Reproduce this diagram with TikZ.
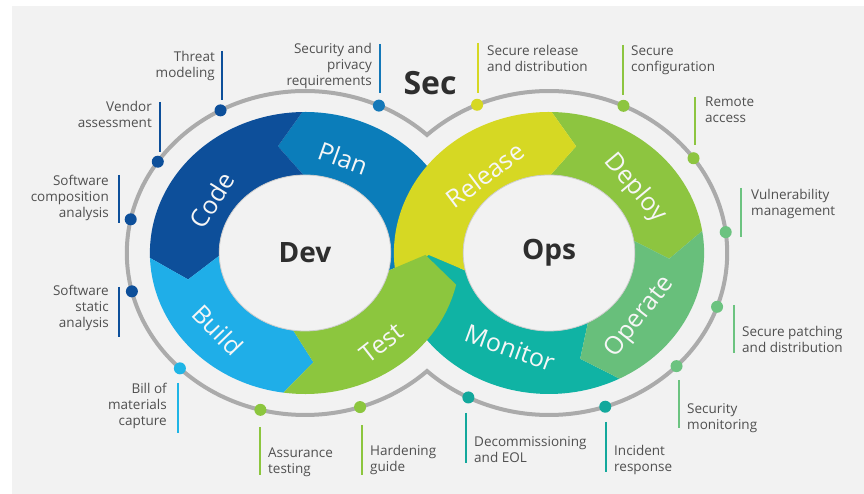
\documentclass[tikz,border=0pt]{standalone}
\usepackage{fontspec}
\setmainfont{Open Sans}
\definecolor{bgcol}{HTML}{F2F2F2}
\definecolor{txtgray}{HTML}{505050}
\definecolor{darktxt}{HTML}{2E2E2E}
\definecolor{trackgray}{HTML}{ABABAB}
\definecolor{codeblue}{HTML}{0D4F9A}
\definecolor{planblue}{HTML}{0B7DBA}
\definecolor{buildblue}{HTML}{1FAEE8}
\definecolor{testgreen}{HTML}{8CC63E}
\definecolor{releaseyellow}{HTML}{D6D823}
\definecolor{deploygreen}{HTML}{8DC540}
\definecolor{operategreen}{HTML}{68BF7B}
\definecolor{monitorteal}{HTML}{10B3A4}
\definecolor{secprivblue}{HTML}{1478B8}
\definecolor{billblue}{HTML}{1FB5E6}
\definecolor{opsdotgreen}{HTML}{6CC380}
\definecolor{tealdot}{HTML}{13A89C}
\begin{document}
\begin{tikzpicture}[x=1pt,y=1pt,
  devs/.style={shift={(305,241)},xscale=1.1},
  opss/.style={shift={(549,241)},xscale=1.1},
  lbl/.style={font=\fontsize{13.5}{16}\selectfont, text=txtgray, inner sep=0pt},
  lblL/.style={lbl, align=right, anchor=north east},
  lblR/.style={lbl, align=left, anchor=north west},
  seglbl/.style={font=\fontsize{25}{25}\selectfont, text=white!93!gray, inner sep=0pt},
  dotnode/.style={circle, inner sep=0pt, minimum size=12pt, fill=#1},
  barline/.style={draw=#1, line width=2.5pt},
  track/.style={draw=trackgray, line width=4pt, line join=miter},
  hole/.style={fill=bgcol, draw=gray!40, line width=0.8pt},
  bigtxt/.style={font=\bfseries\fontsize{28}{28}\selectfont, text=darktxt}
]
\useasboundingbox (0,0) rectangle (864,494);
\fill[bgcol] (12,0) rectangle (864,488);

% ---- lower layer of the ribbon ----
\begin{scope}[devs]
  \fill[planblue] (-13:141) arc[start angle=-13,end angle=91,radius=141] -- (103:109.5) -- (91:78) arc[start angle=91,end angle=-13,radius=78] -- (-1:109.5) -- cycle;
  \fill[codeblue] (91:141) arc[start angle=91,end angle=182,radius=141] -- (194:109.5) -- (182:78) arc[start angle=182,end angle=91,radius=78] -- (103:109.5) -- cycle;
  \fill[buildblue] (182:141) arc[start angle=182,end angle=262,radius=141] -- (274:109.5) -- (262:78) arc[start angle=262,end angle=182,radius=78] -- (194:109.5) -- cycle;
\end{scope}
\begin{scope}[opss]
  \fill[monitorteal] (-63:141) arc[start angle=-63,end angle=-167,radius=141] -- (-179:109.5) -- (-167:78) arc[start angle=-167,end angle=-63,radius=78] -- (-75:109.5) -- cycle;
  \fill[deploygreen] (89:141) arc[start angle=89,end angle=9,radius=141] -- (-3:109.5) -- (9:78) arc[start angle=9,end angle=89,radius=78] -- (77:109.5) -- cycle;
  \fill[operategreen] (9:141) arc[start angle=9,end angle=-63,radius=141] -- (-75:109.5) -- (-63:78) arc[start angle=-63,end angle=9,radius=78] -- (-3:109.5) -- cycle;
  \fill[releaseyellow] (193:141) arc[start angle=193,end angle=89,radius=141] -- (77:109.5) -- (89:78) arc[start angle=89,end angle=193,radius=78] -- (181:109.5) -- cycle;
  \filldraw[hole] (0,0) circle[radius=78];
\end{scope}
\begin{scope}[devs]
  \fill[testgreen] (262:141) arc[start angle=262,end angle=347,radius=141] -- (359:109.5) -- (347:78) arc[start angle=347,end angle=262,radius=78] -- (274:109.5) -- cycle;
  \filldraw[hole] (0,0) circle[radius=78];
  % outer track (figure eight)
  \draw[track] (46.79:162) arc[start angle=46.79,end angle=313.21,radius=162]
               arc[start angle=-133.21,end angle=133.21,radius=162] -- cycle;
  % Dev dots
  \node[dotnode=codeblue] (dthreat) at (118.3:162) {};
  \node[dotnode=secprivblue] (dsecpriv) at (65.5:162) {};
  \node[dotnode=codeblue] (dvendor) at (145.7:162) {};
  \node[dotnode=codeblue] (dsca) at (168:162) {};
  \node[dotnode=codeblue] (dstatic) at (193.7:162) {};
  \node[dotnode=billblue] (dbill) at (225.4:162) {};
  \node[dotnode=testgreen] (dassur) at (255.5:162) {};
  \node[dotnode=testgreen] (dharden) at (288:162) {};
\end{scope}
\begin{scope}[opss]
  \node[dotnode=releaseyellow] (drelease) at (113.8:162) {};
  \node[dotnode=deploygreen] (dconfig) at (65.3:162) {};
  \node[dotnode=deploygreen] (dremote) at (35.8:162) {};
  \node[dotnode=opsdotgreen] (dvuln) at (7.4:162) {};
  \node[dotnode=opsdotgreen] (dpatch) at (-19.4:162) {};
  \node[dotnode=opsdotgreen] (dmonit) at (-44.3:162) {};
  \node[dotnode=tealdot] (dincid) at (-71.6:162) {};
  \node[dotnode=tealdot] (ddecom) at (-116.9:162) {};
\end{scope}

% ---- centre texts ----
\node[bigtxt] (dev) at (305,241) {Dev};
\node[bigtxt] (ops) at (549,241) {Ops};
\node[font=\bfseries\fontsize{32}{32}\selectfont, text=darktxt] (sec) at (430,411) {Sec};

% ---- segment labels ----
\node[seglbl, rotate=-20] (tplan) at (343,336) {Plan};
\node[seglbl, rotate=58] (tcode) at (212,294) {Code};
\node[seglbl, rotate=-46] (tbuild) at (218,164) {Build};
\node[seglbl, rotate=38] (ttest) at (382,151) {Test};
\node[seglbl, rotate=37] (trelease) at (485,319) {Release};
\node[seglbl, rotate=-50] (tdeploy) at (635,306) {Deploy};
\node[seglbl, rotate=52] (toperate) at (640,177) {Operate};
\node[seglbl, rotate=-20] (tmonitor) at (510,146) {Monitor};

% ---- outer labels and bars ----
\node[lblL] (lthreat) at (215,443) {Threat\\modeling};
\draw[barline=codeblue] (222,443) -- (222,394);
\node[lblL] (lsecpriv) at (372,451) {Security and\\privacy\\requirements};
\draw[barline=secprivblue] (380,450) -- (380,401);
\node[lblL] (lvendor) at (152,393) {Vendor\\assessment};
\draw[barline=codeblue] (160,392) -- (160,342);
\node[lblL] (lsca) at (109,319) {Software\\composition\\analysis};
\draw[barline=codeblue] (119,319) -- (119,271);
\node[lblL] (lstatic) at (109,209) {Software\\static\\analysis};
\draw[barline=codeblue] (119,207) -- (119,157);
\node[lblL] (lbill) at (167,111) {Bill of\\materials\\capture};
\draw[barline=billblue] (178,111) -- (178,61);

\node[lblR] (lrelease) at (487,449) {Secure release\\and distribution};
\draw[barline=releaseyellow] (478,451) -- (478,401);
\node[lblR] (lconfig) at (631,448) {Secure\\configuration};
\draw[barline=deploygreen] (623,449) -- (623,399);
\node[lblR] (lremote) at (705,397) {Remote\\access};
\draw[barline=deploygreen] (695,397) -- (695,349);
\node[lblR] (lvuln) at (751,305) {Vulnerability\\management};
\draw[barline=opsdotgreen] (741,306) -- (741,257);
\node[lblR] (lpatch) at (742,168) {Secure patching\\and distribution};
\draw[barline=opsdotgreen] (734,189) -- (734,141);
\node[lblR] (lmonit) at (687,91) {Security\\monitoring};
\draw[barline=opsdotgreen] (679,114) -- (679,66);
\node[lblR] (lincid) at (614,49) {Incident\\response};
\draw[barline=tealdot] (606,72) -- (606,22);
\node[lblR] (ldecom) at (474,58) {Decommissioning\\and EOL};
\draw[barline=tealdot] (466,81) -- (466,31);
\node[lblR] (lharden) at (370,49) {Hardening\\guide};
\draw[barline=testgreen] (362,69) -- (362,19);
\node[lblR] (lassur) at (268,46) {Assurance\\testing};
\draw[barline=testgreen] (260,67) -- (260,19);
\end{tikzpicture}
\end{document}
